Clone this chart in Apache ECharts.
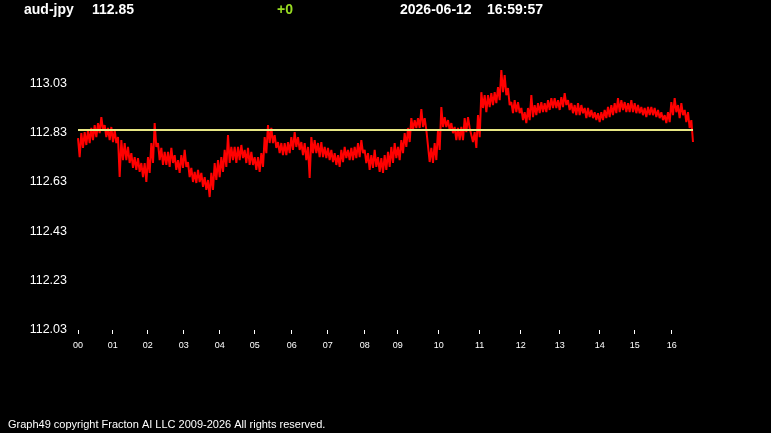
<!DOCTYPE html>
<html><head><meta charset="utf-8">
<script src="https://cdn.jsdelivr.net/npm/echarts@6/dist/echarts.min.js"></script>
<style>html,body{margin:0;padding:0;background:#000;overflow:hidden}#c{width:771px;height:433px}</style>
</head><body><div id="c"></div>
<script>
const symbolName = 'aud-jpy';
const lastPrice = '112.85';
const changeText = '+0';
const dateText = '2026-06-12';
const timeText = '16:59:57';
const footerText = 'Graph49 copyright Fracton AI LLC 2009-2026 All rights reserved.';

const hourLabels = ['00','01','02','03','04','05','06','07','08','09','10','11','12','13','14','15','16'];
const hourPos = [0,10.4,20.9,31.7,42.5,53.0,64.1,74.9,86.0,95.9,108.2,120.5,132.8,144.5,156.5,167.0,178.1];
const yTicks = [112.03,112.23,112.43,112.63,112.83,113.03];
const refLevel = 112.845;

const highs = [
112.808,112.828,112.832,112.841,112.849,112.861,112.869,112.893,112.861,112.849,112.853,112.841,112.812,112.800,112.788,112.772,112.747,112.731,112.727,112.707,
112.707,112.731,112.788,112.869,112.788,112.768,112.752,112.752,112.768,112.739,112.719,112.739,112.760,112.711,112.687,112.671,112.679,112.667,112.650,
112.638,112.667,112.707,112.719,112.731,112.760,112.820,112.772,112.772,112.772,112.780,112.760,112.768,112.752,112.731,112.731,112.747,112.812,112.861,112.849,
112.820,112.792,112.788,112.788,112.792,112.812,112.832,112.812,112.792,112.788,112.772,112.812,112.800,112.788,112.792,112.772,112.768,
112.760,112.747,112.739,112.760,112.772,112.760,112.768,112.772,112.788,112.800,112.760,112.747,112.739,112.760,112.731,112.727,112.739,112.752,112.772,112.788,
112.772,112.800,112.828,112.849,112.889,112.881,112.889,112.926,112.889,112.841,112.768,112.788,112.841,112.934,112.893,112.881,112.869,112.853,
112.849,112.853,112.889,112.893,112.849,112.832,112.901,112.994,112.982,112.982,112.990,112.994,113.015,113.084,113.063,113.011,112.954,112.962,112.954,112.930,
112.913,112.930,112.982,112.942,112.950,112.954,112.950,112.962,112.970,112.970,112.962,112.974,112.990,112.962,112.950,112.942,112.950,112.942,
112.930,112.930,112.922,112.913,112.909,112.913,112.922,112.934,112.942,112.950,112.970,112.962,112.954,112.950,112.962,112.950,112.942,112.934,112.930,112.934,
112.934,112.930,112.922,112.913,112.901,112.913,112.954,112.970,112.942,112.950,112.922,112.913,112.881
];
const lows = [
112.731,112.768,112.780,112.788,112.800,112.812,112.828,112.841,112.812,112.800,112.792,112.788,112.650,112.719,112.719,112.707,112.687,112.679,112.671,112.650,
112.630,112.667,112.707,112.772,112.719,112.699,112.699,112.691,112.707,112.679,112.667,112.687,112.691,112.650,112.630,112.626,112.630,112.610,112.598,
112.569,112.598,112.638,112.650,112.671,112.691,112.707,112.719,112.707,112.719,112.727,112.707,112.699,112.699,112.679,112.671,112.691,112.747,112.788,112.788,
112.768,112.747,112.739,112.739,112.747,112.760,112.772,112.760,112.739,112.719,112.646,112.747,112.747,112.731,112.731,112.727,112.719,
112.711,112.699,112.691,112.711,112.727,112.719,112.719,112.727,112.731,112.747,112.707,112.679,112.687,112.691,112.671,112.667,112.679,112.691,112.707,112.727,
112.719,112.747,112.772,112.792,112.841,112.849,112.849,112.853,112.841,112.711,112.707,112.719,112.760,112.853,112.853,112.841,112.828,112.800,
112.800,112.800,112.832,112.849,112.792,112.768,112.812,112.930,112.913,112.934,112.942,112.950,112.962,112.994,112.982,112.942,112.909,112.913,112.909,112.881,
112.869,112.881,112.893,112.901,112.909,112.913,112.913,112.922,112.930,112.930,112.922,112.934,112.942,112.922,112.909,112.901,112.901,112.909,
112.889,112.893,112.889,112.881,112.873,112.881,112.889,112.893,112.901,112.909,112.913,112.922,112.913,112.913,112.913,112.909,112.909,112.901,112.893,112.901,
112.901,112.893,112.889,112.881,112.869,112.873,112.901,112.913,112.889,112.901,112.873,112.849,112.792
];

const priceSeries = [];
highs.forEach(function (h, i) {
  priceSeries.push([i, h]);
  priceSeries.push([i + 0.5, lows[i]]);
});
const xMax = highs.length - 0.5;

const chart = echarts.init(document.getElementById('c'), null, {renderer: 'canvas'});
const hdrFont = {fontFamily: "'Liberation Sans', Arial, sans-serif", fontWeight: 'bold', fontSize: 14};
function hdr(x, text, color) {
  return {type: 'text', left: x, top: 3, style: Object.assign({text: text, fill: color}, hdrFont)};
}
chart.setOption({
  backgroundColor: '#000000',
  animation: false,
  grid: {left: 78, right: 78, top: 34, bottom: 103},
  xAxis: {
    type: 'value', min: 0, max: xMax,
    axisLine: {show: false},
    splitLine: {show: false},
    axisTick: {show: true, customValues: hourPos, length: 4, lineStyle: {color: '#ffffff', width: 1}},
    axisLabel: {
      customValues: hourPos, color: '#ffffff', fontSize: 9, margin: 11,
      fontFamily: "'Liberation Sans', Arial, sans-serif",
      formatter: function (v) {
        const i = hourPos.findIndex(function (p) { return Math.abs(p - v) < 1e-6; });
        return i >= 0 ? hourLabels[i] : '';
      }
    }
  },
  yAxis: {
    type: 'value', min: 112.03, max: 113.23,
    axisLine: {show: false},
    axisTick: {show: false},
    splitLine: {show: false},
    axisLabel: {
      customValues: yTicks, color: '#ffffff', fontSize: 12.5, margin: 11,
      fontFamily: "'Liberation Sans', Arial, sans-serif",
      formatter: function (v) { return v.toFixed(2); }
    }
  },
  series: [
    {
      type: 'line', data: priceSeries, showSymbol: false, symbol: 'none', sampling: null,
      lineStyle: {color: '#ff0000', width: 2}, z: 2, silent: true
    },
    {
      type: 'line', data: [], z: 5, silent: true,
      markLine: {
        silent: true, symbol: ['none', 'none'], label: {show: false},
        lineStyle: {color: '#e8e884', width: 2, type: 'solid'},
        data: [{yAxis: refLevel}]
      }
    }
  ],
  graphic: [
    hdr(24, symbolName, '#ffffff'),
    hdr(92, lastPrice, '#ffffff'),
    hdr(277, changeText, '#99dd22'),
    hdr(400, dateText, '#ffffff'),
    hdr(487, timeText, '#ffffff'),
    {type: 'text', left: 8, top: 419, style: {text: footerText, fill: '#ffffff', fontSize: 11, fontFamily: "'Liberation Sans', Arial, sans-serif"}}
  ]
});
</script>
</body></html>
